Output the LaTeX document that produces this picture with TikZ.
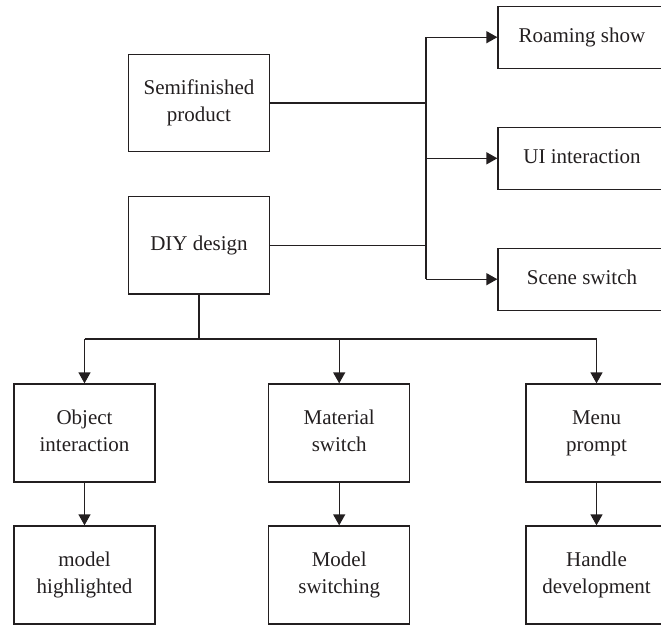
\documentclass[tikz,border=0pt]{standalone}
\usepackage{fontspec}
\setmainfont{Liberation Serif}
\usetikzlibrary{arrows.meta}
\definecolor{ink}{RGB}{35,31,32}
\begin{document}
\begin{tikzpicture}[x=1pt,y=-1pt,
  box/.style={draw=ink,line width=1.3pt,text=ink,align=center,inner sep=0pt,
    font=\fontsize{21}{27}\selectfont},
  leftbox/.style={box,minimum width=141pt,minimum height=97.5pt},
  rbox/.style={box,minimum width=168pt,minimum height=62pt},
  lowbox/.style={box,minimum width=141pt,minimum height=98pt},
  conn/.style={draw=ink,line width=1.3pt},
  arr/.style={conn,-{Triangle[length=11pt,width=12pt]}}]
\useasboundingbox (0,0) rectangle (661,627);
\clip (0,0) rectangle (661,627);
% left boxes
\node[leftbox] (semi) at (199,103) {\strut Semifinished\\\strut product};
\node[leftbox] (diy) at (199,245.2) {\strut DIY design};
% right boxes
\node[rbox] (roam) at (582,37.2) {\strut Roaming show};
\node[rbox] (ui) at (582,158.3) {\strut UI interaction};
\node[rbox] (scene) at (582,279.2) {\strut Scene switch};
% lower rows
\node[lowbox] (obj) at (84.5,433) {\strut Object\\\strut interaction};
\node[lowbox] (mat) at (339.2,433) {\strut Material\\\strut switch};
\node[lowbox] (menu) at (596.5,433) {\strut Menu\\\strut prompt};
\node[lowbox] (hl) at (84.5,575) {\strut model\\\strut highlighted};
\node[lowbox] (ms) at (339.2,575) {\strut Model\\\strut switching};
\node[lowbox] (hd) at (596.5,575) {\strut Handle\\\strut development};
% bus coordinates
\coordinate (bx) at (426,0);
\coordinate (by) at (0,339);
% right-side connectors
\draw[conn] (semi.east) -- (semi.east -| bx);
\draw[conn] (diy.east) -- (diy.east -| bx);
\draw[conn] (bx |- roam) -- (bx |- scene);
\draw[arr] (bx |- roam) -- (roam.west);
\draw[arr] (bx |- ui) -- (ui.west);
\draw[arr] (bx |- scene) -- (scene.west);
% lower connectors
\draw[conn] (diy.south) -- (diy.south |- by);
\draw[conn] (obj |- by) -- (menu |- by);
\draw[arr] (obj |- by) -- (obj.north);
\draw[arr] (mat |- by) -- (mat.north);
\draw[arr] (menu |- by) -- (menu.north);
\draw[arr] (obj.south) -- (hl.north);
\draw[arr] (mat.south) -- (ms.north);
\draw[arr] (menu.south) -- (hd.north);
\end{tikzpicture}
\end{document}
